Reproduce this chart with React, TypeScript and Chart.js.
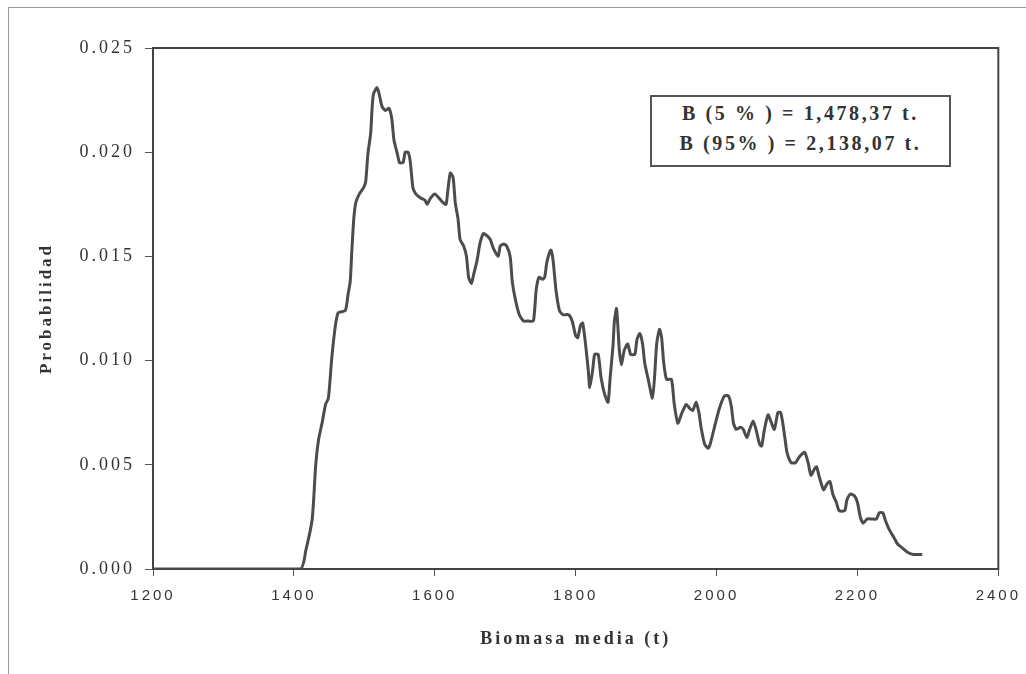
import React, { useEffect, useRef } from "react";
import { Chart, registerables } from "chart.js";

Chart.register(...registerables);

const biomass = [
  1200, 1409, 1417, 1426, 1431, 1435, 1440, 1445, 1449, 1454, 1459, 1463, 1473, 1477, 1480, 1482, 1485, 1488, 1493, 1499,
  1502, 1505, 1509, 1511, 1513, 1518, 1521, 1525, 1530, 1535, 1539, 1542, 1547, 1550, 1555, 1558, 1562, 1565, 1569, 1573,
  1580, 1586, 1589, 1594, 1600, 1606, 1611, 1616, 1619, 1622, 1626, 1629, 1633, 1636, 1641, 1645, 1648, 1652, 1655, 1660,
  1664, 1669, 1674, 1679, 1683, 1690, 1693, 1698, 1702, 1707, 1710, 1714, 1720, 1726, 1733, 1740, 1744, 1748, 1753, 1756,
  1759, 1763, 1765, 1768, 1772, 1777, 1782, 1790, 1795, 1800, 1803, 1807, 1810, 1814, 1818, 1820, 1824, 1827, 1832, 1836,
  1841, 1846, 1849, 1853, 1855, 1858, 1860, 1862, 1865, 1869, 1874, 1878, 1884, 1887, 1891, 1895, 1898, 1903, 1909, 1912,
  1915, 1919, 1922, 1925, 1929, 1936, 1940, 1945, 1951, 1957, 1962, 1966, 1971, 1975, 1978, 1983, 1988, 1991, 1997, 2004,
  2011, 2017, 2021, 2024, 2028, 2034, 2038, 2043, 2047, 2052, 2056, 2061, 2064, 2068, 2073, 2077, 2082, 2087, 2091, 2094,
  2097, 2100, 2106, 2112, 2118, 2125, 2130, 2134, 2139, 2142, 2146, 2152, 2157, 2161, 2165, 2170, 2174, 2182, 2185, 2190,
  2196, 2200, 2204, 2208, 2214, 2221, 2227, 2231, 2236, 2240, 2245, 2252, 2257, 2264, 2271, 2279, 2292,
];

const probability = [
  0, 0, 0.0009, 0.0024, 0.005, 0.0062, 0.007, 0.0079, 0.0082, 0.0102, 0.0117, 0.0123, 0.0124, 0.0132, 0.0138, 0.0151, 0.0168, 0.0176, 0.018, 0.0183,
  0.0186, 0.0199, 0.0209, 0.0221, 0.0228, 0.0231, 0.0228, 0.0222, 0.022, 0.0221, 0.0216, 0.0206, 0.0199, 0.0195, 0.0195, 0.02, 0.02, 0.0196, 0.0183, 0.018,
  0.0178, 0.0177, 0.0175, 0.0178, 0.018, 0.0178, 0.0176, 0.0175, 0.0183, 0.019, 0.0188, 0.0176, 0.0168, 0.0158, 0.0155, 0.015, 0.014, 0.0137, 0.0141, 0.0148,
  0.0156, 0.0161, 0.016, 0.0158, 0.0154, 0.015, 0.0155, 0.0156, 0.0155, 0.015, 0.0138, 0.013, 0.0122, 0.0119, 0.0119, 0.0119, 0.0134, 0.014, 0.0139, 0.014,
  0.0147, 0.0152, 0.0153, 0.0148, 0.0134, 0.0124, 0.0122, 0.0122, 0.0119, 0.0112, 0.0111, 0.0117, 0.0118, 0.0108, 0.0095, 0.0087, 0.0095, 0.0103, 0.0103, 0.0092,
  0.0084, 0.008, 0.0092, 0.0107, 0.0119, 0.0125, 0.0116, 0.0105, 0.0098, 0.0105, 0.0108, 0.0103, 0.0103, 0.011, 0.0113, 0.0108, 0.0099, 0.0091, 0.0082, 0.0092,
  0.0108, 0.0115, 0.0111, 0.0099, 0.0091, 0.0091, 0.0079, 0.007, 0.0075, 0.0079, 0.0077, 0.0076, 0.008, 0.0075, 0.0068, 0.006, 0.0058, 0.006, 0.0068, 0.0077,
  0.0083, 0.0083, 0.0078, 0.007, 0.0067, 0.0068, 0.0067, 0.0063, 0.0067, 0.0071, 0.0067, 0.006, 0.0059, 0.0067, 0.0074, 0.0071, 0.0067, 0.0075, 0.0075, 0.007,
  0.0063, 0.0056, 0.0051, 0.0051, 0.0054, 0.0056, 0.0051, 0.0045, 0.0048, 0.0049, 0.0044, 0.0038, 0.0041, 0.0042, 0.0036, 0.0032, 0.0028, 0.0028, 0.0033, 0.0036,
  0.0035, 0.0032, 0.0025, 0.0022, 0.0024, 0.0024, 0.0024, 0.0027, 0.0027, 0.0023, 0.0019, 0.0015, 0.0012, 0.001, 0.0008, 0.0007, 0.0007,
];

const xTicks = [1200, 1400, 1600, 1800, 2000, 2200, 2400];
const yTicks = [0, 0.005, 0.01, 0.015, 0.02, 0.025];
const legendLines = ["B (5 % ) = 1,478,37 t.", "B (95% ) = 2,138,07 t."];
const xTitle = "Biomasa media (t)";
const yTitle = "Probabilidad";

export default function App() {
  const ref = useRef<HTMLCanvasElement>(null);

  useEffect(() => {
    if (!ref.current) return;
    const spacingPlugin = {
      id: "spacing",
      beforeDraw(chart: any) {
        (chart.ctx as any).letterSpacing = "3px";
      },
      beforeDatasetsDraw(chart: any) {
        const { ctx, chartArea } = chart;
        ctx.save();
        ctx.strokeStyle = "#444";
        ctx.lineWidth = 2;
        ctx.strokeRect(chartArea.left, chartArea.top, chartArea.right - chartArea.left, chartArea.bottom - chartArea.top);
        ctx.restore();
      },
      afterDraw(chart: any) {
        (chart.ctx as any).letterSpacing = "0px";
      },
    };

    const chart = new Chart(ref.current, {
      type: "line",
      data: {
        datasets: [
          {
            data: biomass.map((x, i) => ({ x, y: probability[i] })),
            borderColor: "#4c4c4c",
            borderWidth: 3,
            pointRadius: 0,
            tension: 0.2,
            fill: false,
          },
        ],
      },
      options: {
        animation: false,
        responsive: false,
        layout: { padding: { left: 0, top: 48, right: 27, bottom: 0 } },
        plugins: { legend: { display: false }, tooltip: { enabled: false } },
        scales: {
          x: {
            type: "linear",
            min: 1200,
            max: 2400,
            afterBuildTicks: (s: any) => {
              s.ticks = xTicks.map((v) => ({ value: v }));
            },
            afterFit: (s: any) => {
              s.height = 105;
            },
            ticks: {
              font: { family: "'Liberation Sans', Arial, sans-serif", size: 15 },
              color: "#333",
              padding: 11,
              maxRotation: 0,
              callback: (v: any) => String(v),
            },
            grid: { drawOnChartArea: false, drawTicks: true, tickLength: 7, color: "#555", lineWidth: 1 },
            border: { display: true, color: "#444", width: 2 },
            title: {
              display: true,
              text: xTitle,
              font: { family: "'Liberation Serif', 'Times New Roman', serif", size: 18, weight: "bold" },
              color: "#333",
              padding: { top: 0, bottom: 24 },
            },
          },
          y: {
            type: "linear",
            min: 0,
            max: 0.025,
            afterBuildTicks: (s: any) => {
              s.ticks = yTicks.map((v) => ({ value: v }));
            },
            afterFit: (s: any) => {
              s.width = 153;
            },
            ticks: {
              font: { family: "'Liberation Serif', 'Times New Roman', serif", size: 18 },
              color: "#333",
              padding: 10,
              callback: (v: any) => Number(v).toFixed(3),
            },
            grid: { drawOnChartArea: false, drawTicks: true, tickLength: 8, color: "#555", lineWidth: 1 },
            border: { display: true, color: "#444", width: 2 },
            title: {
              display: true,
              text: yTitle,
              font: { family: "'Liberation Serif', 'Times New Roman', serif", size: 17, weight: "bold" },
              color: "#333",
              padding: { top: 36, bottom: 0 },
            },
          },
        },
      },
      plugins: [spacingPlugin],
    } as any);

    return () => chart.destroy();
  }, []);

  return (
    <div style={{ position: "absolute", left: 0, top: 0, width: 1026, height: 674, background: "#fff", overflow: "hidden" }}>
      <div
        style={{
          position: "absolute",
          left: 8,
          top: 7,
          right: 0,
          bottom: 0,
          borderTop: "1px solid #9a9a9a",
          borderLeft: "1px solid #9a9a9a",
        }}
      />
      <canvas ref={ref} width={1026} height={674} style={{ position: "absolute", left: 0, top: 0, width: 1026, height: 674 }} />
      <div
        style={{
          position: "absolute",
          left: 650,
          top: 95,
          width: 301,
          height: 72,
          boxSizing: "border-box",
          border: "2px solid #555",
          background: "#fff",
          fontFamily: "'Liberation Serif', 'Times New Roman', serif",
          fontWeight: "bold",
          fontSize: 20,
          letterSpacing: "2.6px",
          lineHeight: "30px",
          textAlign: "center",
          color: "#333",
          paddingTop: 1,
          whiteSpace: "nowrap",
        }}
      >
        {legendLines.map((l) => (
          <div key={l}>{l}</div>
        ))}
      </div>
    </div>
  );
}
